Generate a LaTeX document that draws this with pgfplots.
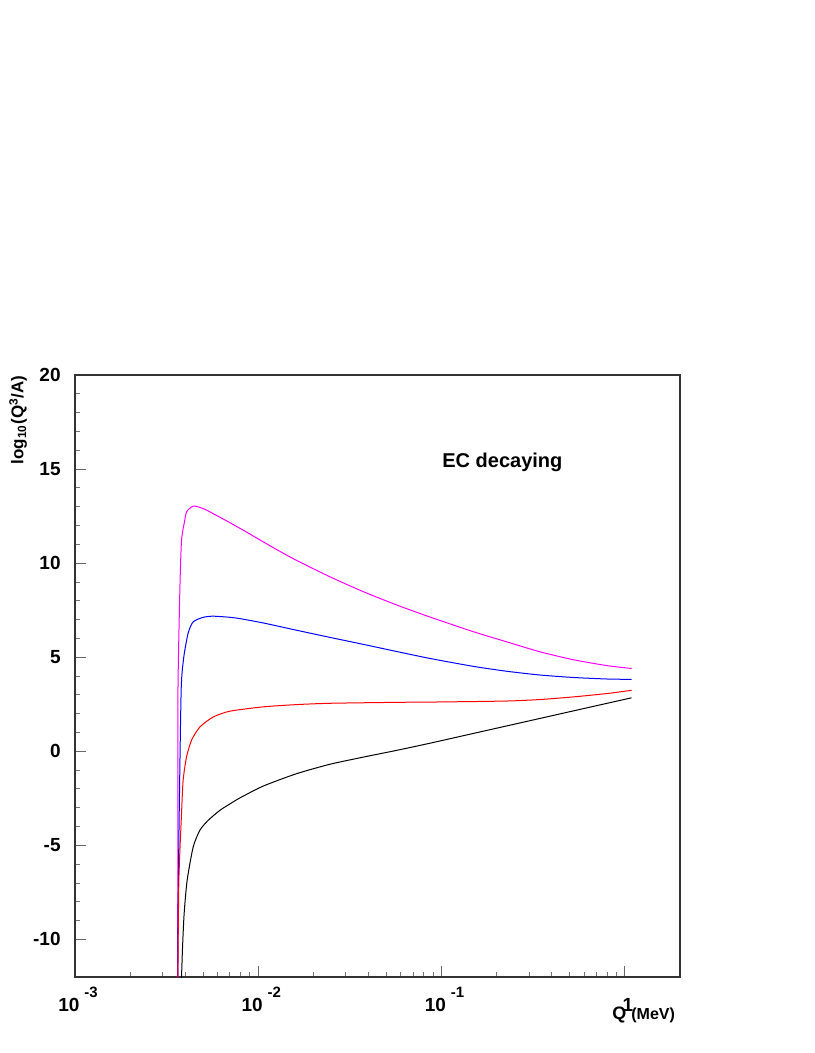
\documentclass[border=0pt]{standalone}
\usepackage{fontspec}
\setmainfont{Liberation Sans}
\usepackage{pgfplots}
\pgfplotsset{compat=1.18}
\definecolor{rootmag}{RGB}{255,0,255}
\definecolor{rootblue}{RGB}{0,0,255}
\definecolor{rootred}{RGB}{255,0,0}
\newcommand{\pw}[1]{\textbf{10}\hspace{2.5pt}\raisebox{7pt}{\fontsize{7.5}{7.5}\selectfont\textbf{#1}}}
\begin{document}
\begin{tikzpicture}
\path[use as bounding box] (0,0) rectangle (407pt,526.5pt);
\begin{axis}[
  at={(37.5pt,38pt)}, anchor=south west,
  scale only axis, width=302.5pt, height=301pt,
  xmode=log, xmin=0.001, xmax=2.0,
  ymin=-12, ymax=20,
  xtick={0.001,0.01,0.1,1},
  xticklabels={\pw{-3},\pw{-2},\pw{-1},\textbf{1}},
  ytick={-10,-5,0,5,10,15,20},
  yticklabels={-10,-5,0,5,10,15,20},
  minor y tick num=4,
  tick pos=left, tick align=inside,
  major tick length=5.3pt, minor tick length=2.7pt,
  major tick style={black!60, line width=0.5pt},
  minor tick style={black!55, line width=0.4pt},
  axis line style={black!80, line width=0.6pt},
  xticklabel style={font=\fontsize{9.5}{9.5}\selectfont\bfseries, anchor=base, xshift=1.5pt, yshift=-17pt, inner sep=0pt},
  yticklabel style={font=\fontsize{9.5}{9.5}\selectfont\bfseries, anchor=east, xshift=-7pt, inner sep=0pt},
  every axis plot/.append style={line width=0.5pt, smooth, tension=0.4},
]
% magenta
\addplot[rootmag] coordinates {
(0.003631,-12.5) (0.003641,-4) (0.003646,3.2) (0.003734,8.56) (0.003814,11.2)
(0.003976,12.3) (0.004061,12.73) (0.004416,13.03) (0.005005,12.90) (0.005677,12.63)
(0.007004,12.15) (0.008633,11.65) (0.010649,11.13) (0.013143,10.62) (0.016214,10.14)
(0.024644,9.27) (0.037487,8.48) (0.05707,7.77) (0.08675,7.13) (0.14957,6.35)
(0.22773,5.81) (0.34619,5.28) (0.52639,4.86) (0.80147,4.55) (1.0879,4.40)};
% blue
\addplot[rootblue] coordinates {
(0.00364,-12.5) (0.003655,-8) (0.00372,-2) (0.0038,3.4) (0.003926,5.02)
(0.004144,6.28) (0.004416,6.88) (0.005012,7.12) (0.005675,7.18) (0.007004,7.12)
(0.007943,7.05) (0.010641,6.82) (0.016218,6.43) (0.02466,6.05) (0.037497,5.68)
(0.057016,5.30) (0.08675,4.93) (0.14957,4.51) (0.22773,4.25) (0.34619,4.05)
(0.52639,3.92) (0.80147,3.84) (1.0879,3.82)};
% red
\addplot[rootred] coordinates {
(0.00364,-12.5) (0.003688,-6.86) (0.003814,-3.31) (0.003892,-1.54) (0.004061,-0.30)
(0.004326,0.59) (0.004801,1.29) (0.005675,1.82) (0.007004,2.13) (0.010641,2.36)
(0.016218,2.48) (0.02466,2.55) (0.057016,2.60) (0.098378,2.62) (0.22751,2.67)
(0.345939,2.75) (0.526017,2.89) (0.801678,3.07) (1.08893,3.24)};
% black
\addplot[black] coordinates {
(0.003795,-12.5) (0.003814,-12) (0.003863,-10.41) (0.003941,-8.63) (0.004092,-6.86)
(0.004414,-5.09) (0.004801,-4.20) (0.005331,-3.67) (0.006176,-3.14) (0.007004,-2.80)
(0.007943,-2.48) (0.010649,-1.85) (0.016214,-1.19) (0.024644,-0.69) (0.037487,-0.31)
(0.05707,0.05) (0.08675,0.43) (0.14957,0.95) (0.22773,1.35) (0.34619,1.75)
(0.52639,2.15) (0.80147,2.55) (1.0879,2.84)};
\end{axis}
\node[rotate=90, anchor=north east, inner sep=0pt, font=\fontsize{8.5}{8.5}\selectfont\bfseries]
  at (4.5pt,339pt) {log\textsubscript{10}(Q\textsuperscript{3}/A)};
\node[anchor=base west, inner sep=0pt, font=\fontsize{10}{10}\selectfont\bfseries]
  at (221pt,292.5pt) {EC decaying};
\node[anchor=base west, inner sep=0pt, font=\bfseries]
  at (306pt,16.5pt) {\fontsize{9}{9}\selectfont Q \fontsize{8}{8}\selectfont(MeV)};
\end{tikzpicture}
\end{document}
